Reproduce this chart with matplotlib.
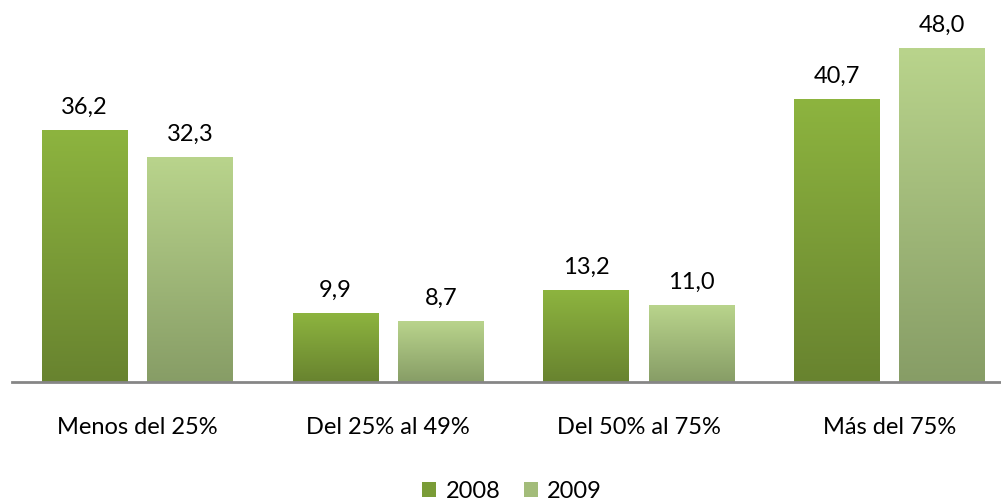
import numpy as np
import matplotlib.pyplot as plt
from matplotlib.colors import LinearSegmentedColormap
from matplotlib.patches import Patch

categories = ["Menos del 25%", "Del 25% al 49%", "Del 50% al 75%", "Más del 75%"]
years = ["2008", "2009"]
values_2008 = [36.2, 9.9, 13.2, 40.7]
values_2009 = [32.3, 8.7, 11.0, 48.0]

# top / bottom colours of the gradient fills
grad_2008 = ("#8DB43F", "#68832F")
grad_2009 = ("#B9D48C", "#879D66")

plt.rcParams['font.family'] = ['Lato', 'DejaVu Sans']

fig = plt.figure(figsize=(10.01, 5.02), dpi=100)
ax = fig.add_axes([12 / 1001, 1 - 382.5 / 502, 989 / 1001, 382.5 / 502])

x = np.arange(len(categories))
width = 0.34
offset = 0.21

bars_a = ax.bar(x - offset, values_2008, width, color="none", zorder=2)
bars_b = ax.bar(x + offset, values_2009, width, color="none", zorder=2)


def fill_gradient(bars, colors):
    cmap = LinearSegmentedColormap.from_list("g", [colors[1], colors[0]])
    grad = np.linspace(0, 1, 256).reshape(-1, 1)
    for b in bars:
        x0, y0 = b.get_x(), b.get_y()
        ax.imshow(grad, cmap=cmap, origin="lower", aspect="auto",
                  extent=[x0, x0 + b.get_width(), y0, y0 + b.get_height()],
                  zorder=1)


fill_gradient(bars_a, grad_2008)
fill_gradient(bars_b, grad_2009)

for bars in (bars_a, bars_b):
    for b in bars:
        ax.text(b.get_x() + b.get_width() / 2, b.get_height() + 1.9,
                f"{b.get_height():.1f}".replace(".", ","),
                ha="center", va="bottom", fontsize=17, color="black")

ax.set_xlim(-0.5, -0.5 + 989 / 250.7)
ax.set_ylim(0, 382.5 / 6.94)

ax.set_xticks(x)
ax.set_xticklabels(categories, fontsize=17)
ax.tick_params(axis="x", length=0, pad=25)
ax.set_yticks([])

for side in ("top", "right", "left"):
    ax.spines[side].set_visible(False)
ax.spines["bottom"].set_color("#868686")
ax.spines["bottom"].set_linewidth(2)

handles = [Patch(facecolor="#7A9C37", label=years[0]),
           Patch(facecolor="#A3BC7A", label=years[1])]
fig.legend(handles=handles, loc="center", bbox_to_anchor=(512 / 1001, 1 - 492 / 502),
           ncol=2, frameon=False, fontsize=17, handlelength=0.6, handleheight=0.6,
           handletextpad=0.4, columnspacing=1.0)

fig.savefig("out.png", dpi=100)
